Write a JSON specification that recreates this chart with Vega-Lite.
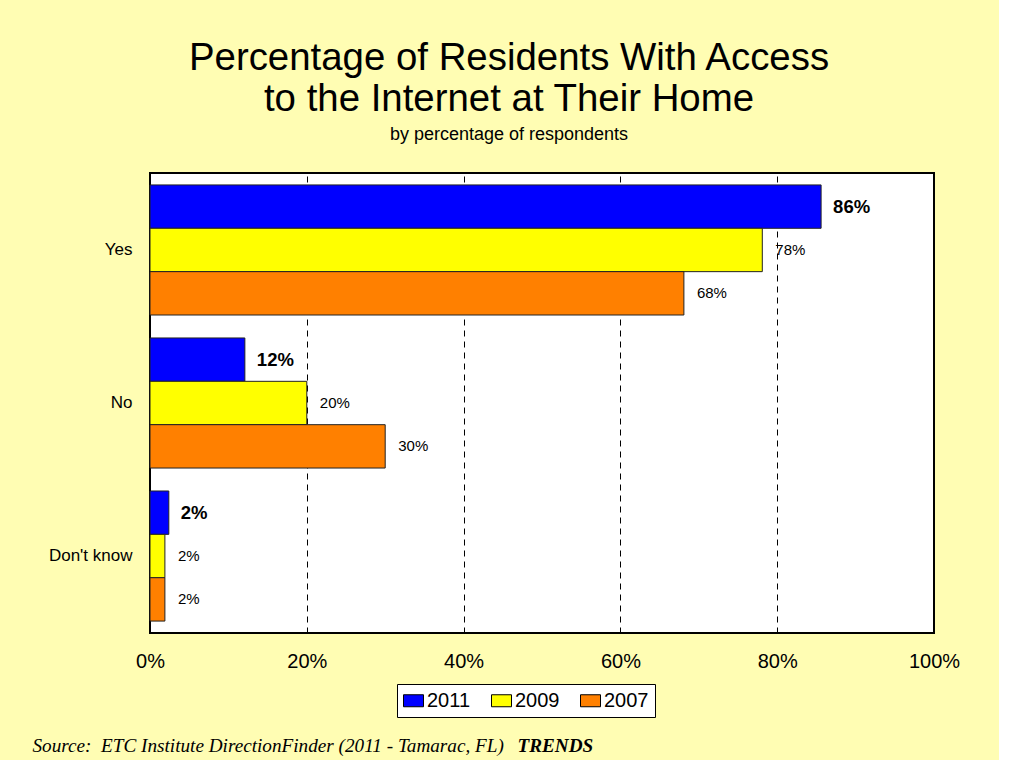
{
  "$schema": "https://vega.github.io/schema/vega-lite/v6.json",
  "background": "#FFFDB3",
  "padding": {"left": 32, "right": 39, "top": 38, "bottom": 4},
  "width": 784,
  "height": 460,
  "title": {
    "text": ["Percentage of Residents With Access", "to the Internet at Their Home"],
    "subtitle": "by percentage of respondents",
    "font": "Liberation Sans",
    "fontSize": 38.4,
    "fontWeight": "normal",
    "lineHeight": 41,
    "color": "black",
    "subtitleFont": "Liberation Sans",
    "subtitleFontSize": 18,
    "subtitleColor": "black",
    "subtitlePadding": 7,
    "anchor": "middle",
    "dx": -33,
    "offset": 28
  },
  "data": {
    "values": [
      {"answer": "Yes", "year": "2011", "value": 85.6, "label": "86%"},
      {"answer": "Yes", "year": "2009", "value": 78.1, "label": "78%"},
      {"answer": "Yes", "year": "2007", "value": 68.1, "label": "68%"},
      {"answer": "No", "year": "2011", "value": 12.1, "label": "12%"},
      {"answer": "No", "year": "2009", "value": 20.0, "label": "20%"},
      {"answer": "No", "year": "2007", "value": 30.0, "label": "30%"},
      {"answer": "Don't know", "year": "2011", "value": 2.4, "label": "2%"},
      {"answer": "Don't know", "year": "2009", "value": 1.9, "label": "2%"},
      {"answer": "Don't know", "year": "2007", "value": 1.9, "label": "2%"}
    ]
  },
  "encoding": {
    "y": {
      "field": "answer",
      "type": "nominal",
      "sort": ["Yes", "No", "Don't know"],
      "scale": {"paddingInner": 0.15, "paddingOuter": 0.078},
      "axis": {
        "title": null,
        "ticks": false,
        "domain": false,
        "labelFont": "Liberation Sans",
        "labelFontSize": 17,
        "labelColor": "black",
        "labelPadding": 18
      }
    },
    "yOffset": {
      "field": "year",
      "type": "nominal",
      "sort": ["2011", "2009", "2007"],
      "scale": {"paddingInner": 0, "paddingOuter": 0}
    }
  },
  "layer": [
    {
      "mark": {"type": "bar", "stroke": "#222222", "strokeWidth": 1},
      "encoding": {
        "x": {
          "field": "value",
          "type": "quantitative",
          "scale": {"domain": [0, 100], "nice": false},
          "axis": {
            "values": [0, 20, 40, 60, 80, 100],
            "labelExpr": "datum.value + '%'",
            "labelFlush": false,
            "labelOverlap": false,
            "grid": true,
            "gridColor": "black",
            "gridDash": [6, 5],
            "gridWidth": 1,
            "gridOpacity": 1,
            "ticks": false,
            "domain": false,
            "labelFont": "Liberation Sans",
            "labelFontSize": 20,
            "labelColor": "black",
            "labelPadding": 18,
            "title": "Source:\u00a0 ETC Institute DirectionFinder (2011 - Tamarac, FL)",
            "titleFont": "Liberation Serif",
            "titleFontSize": 19.2,
            "titleFontStyle": "italic",
            "titleFontWeight": "normal",
            "titleColor": "black",
            "titleAlign": "left",
            "titleBaseline": "alphabetic",
            "titleX": -118,
            "titleY": 118
          }
        },
        "color": {
          "field": "year",
          "type": "nominal",
          "sort": ["2011", "2009", "2007"],
          "scale": {"domain": ["2011", "2009", "2007"], "range": ["#0000FF", "#FFFF00", "#FF8000"]},
          "legend": {
            "title": null,
            "orient": "none",
            "legendX": 247,
            "legendY": 511,
            "direction": "horizontal",
            "strokeColor": "black",
            "fillColor": "white",
            "padding": 6,
            "labelFont": "Liberation Sans",
            "labelFontSize": 20,
            "labelColor": "black",
            "labelOffset": 3,
            "columnPadding": 18,
            "symbolType": "M-1,-0.6H1V0.6H-1Z",
            "symbolSize": 400,
            "symbolStrokeColor": "black",
            "symbolStrokeWidth": 1,
            "symbolOpacity": 1
          }
        }
      }
    },
    {
      "transform": [{"filter": "datum.year == '2011'"}],
      "mark": {"type": "text", "align": "left", "dx": 12, "font": "Liberation Sans", "fontSize": 18.5, "fontWeight": "bold", "color": "black"},
      "encoding": {
        "x": {
          "field": "value",
          "type": "quantitative",
          "axis": {
            "orient": "bottom",
            "labels": false,
            "ticks": false,
            "domain": false,
            "grid": false,
            "title": "TRENDS",
            "titleFont": "Liberation Serif",
            "titleFontSize": 19.2,
            "titleFontStyle": "italic",
            "titleFontWeight": "bold",
            "titleColor": "black",
            "titleAlign": "left",
            "titleBaseline": "alphabetic",
            "titleX": 367,
            "titleY": 118
          }
        },
        "text": {"field": "label"}
      }
    },
    {
      "transform": [{"filter": "datum.year != '2011'"}],
      "mark": {"type": "text", "align": "left", "dx": 13, "font": "Liberation Sans", "fontSize": 15, "color": "black"},
      "encoding": {
        "x": {"field": "value", "type": "quantitative", "axis": null},
        "text": {"field": "label"}
      }
    }
  ],
  "resolve": {"axis": {"x": "independent"}},
  "config": {
    "view": {"stroke": "black", "strokeWidth": 2, "fill": "white"}
  }
}
